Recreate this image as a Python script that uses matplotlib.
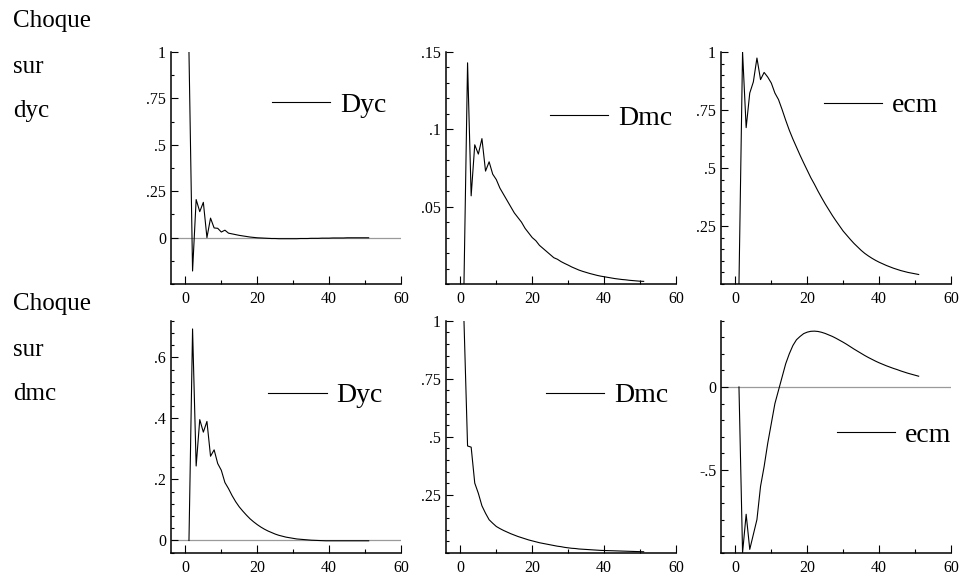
import matplotlib
matplotlib.use("Agg")
import matplotlib.pyplot as plt
from matplotlib.ticker import FixedLocator, FixedFormatter, MultipleLocator
from matplotlib.lines import Line2D

plt.rcParams["font.family"] = ["Liberation Serif", "DejaVu Serif"]

# Horizon of the impulse responses
periods = list(range(1, 52))

# Responses to a shock on dyc
dyc_on_dyc = [1.0, -0.18, 0.205, 0.14, 0.19, 0.0, 0.105, 0.052, 0.05, 0.03,
              0.04, 0.024, 0.02, 0.016, 0.012, 0.009, 0.006, 0.003, 0.001, -0.001,
              -0.002, -0.003, -0.004, -0.005, -0.005, -0.006, -0.006, -0.006, -0.006, -0.006,
              -0.006, -0.005, -0.005, -0.005, -0.004, -0.004, -0.004, -0.003, -0.003, -0.003,
              -0.002, -0.002, -0.002, -0.002, -0.001, -0.001, -0.001, -0.001, -0.001, -0.001,
              -0.001]
dmc_on_dyc = [0.0, 0.143, 0.057, 0.090, 0.084, 0.094, 0.073, 0.079, 0.071, 0.0675,
              0.062, 0.058, 0.054, 0.050, 0.046, 0.043, 0.040, 0.036, 0.033, 0.030,
              0.028, 0.025, 0.023, 0.021, 0.019, 0.017, 0.016, 0.0145, 0.0133, 0.0122,
              0.011, 0.010, 0.009, 0.0082, 0.0075, 0.0068, 0.0062, 0.0056, 0.0051, 0.0047,
              0.0043, 0.0039, 0.0035, 0.0032, 0.0029, 0.0027, 0.0024, 0.0022, 0.002, 0.0018,
              0.0017]
ecm_on_dyc = [0.0, 1.0, 0.674, 0.823, 0.871, 0.974, 0.881, 0.912, 0.892, 0.866,
              0.823, 0.795, 0.752, 0.706, 0.663, 0.625, 0.59, 0.555, 0.522, 0.49,
              0.458, 0.43, 0.40, 0.372, 0.345, 0.32, 0.295, 0.272, 0.25, 0.228,
              0.21, 0.192, 0.175, 0.16, 0.145, 0.132, 0.121, 0.111, 0.102, 0.094,
              0.087, 0.08, 0.074, 0.068, 0.063, 0.058, 0.054, 0.05, 0.047, 0.044,
              0.041]

# Responses to a shock on dmc
dyc_on_dmc = [0.0, 0.693, 0.244, 0.396, 0.355, 0.39, 0.276, 0.297, 0.252, 0.23,
              0.19, 0.17, 0.147, 0.127, 0.11, 0.096, 0.083, 0.071, 0.061, 0.052,
              0.044, 0.037, 0.031, 0.026, 0.021, 0.017, 0.014, 0.011, 0.009, 0.007,
              0.005, 0.004, 0.003, 0.002, 0.001, 0.0005, 0.0, -0.0005, -0.001, -0.001,
              -0.001, -0.001, -0.001, -0.001, -0.001, -0.001, -0.001, -0.001, -0.001, -0.001,
              -0.001]
dmc_on_dmc = [1.0, 0.46, 0.455, 0.30, 0.256, 0.202, 0.17, 0.142, 0.127, 0.113,
              0.104, 0.096, 0.089, 0.082, 0.076, 0.07, 0.065, 0.06, 0.055, 0.051,
              0.047, 0.043, 0.040, 0.037, 0.034, 0.031, 0.028, 0.026, 0.023, 0.021,
              0.019, 0.018, 0.016, 0.015, 0.014, 0.013, 0.012, 0.011, 0.010, 0.0095,
              0.009, 0.0085, 0.008, 0.0075, 0.007, 0.0065, 0.006, 0.0055, 0.005, 0.0045,
              0.004]
ecm_on_dmc = [0.0, -1.0, -0.768, -0.98, -0.89, -0.80, -0.60, -0.48, -0.34, -0.22,
              -0.10, -0.02, 0.06, 0.14, 0.20, 0.25, 0.285, 0.305, 0.322, 0.331,
              0.336, 0.337, 0.335, 0.330, 0.323, 0.314, 0.305, 0.294, 0.282, 0.270,
              0.257, 0.243, 0.229, 0.216, 0.203, 0.190, 0.178, 0.167, 0.156, 0.146,
              0.137, 0.128, 0.120, 0.112, 0.105, 0.097, 0.090, 0.083, 0.077, 0.071,
              0.065]

series_names = ["Dyc", "Dmc", "ecm"]
row_titles = [["Choque", "sur", "dyc"], ["Choque", "sur", "dmc"]]

x_ticks = [0, 20, 40, 60]
x_tick_labels = ["0", "20", "40", "60"]
x_minor_ticks = [10, 30, 50]

y_ticks = [
    [0, 0.25, 0.5, 0.75, 1],
    [0.05, 0.1, 0.15],
    [0.25, 0.5, 0.75, 1],
    [0, 0.2, 0.4, 0.6],
    [0.25, 0.5, 0.75, 1],
    [-0.5, 0],
]
y_tick_labels = [
    ["0", ".25", ".5", ".75", "1"],
    [".05", ".1", ".15"],
    [".25", ".5", ".75", "1"],
    ["0", ".2", ".4", ".6"],
    [".25", ".5", ".75", "1"],
    ["-.5", "0"],
]

responses = [dyc_on_dyc, dmc_on_dyc, ecm_on_dyc,
             dyc_on_dmc, dmc_on_dmc, ecm_on_dmc]

# Layout / style (pixel geometry of a 961x577 canvas)
W, H = 961, 577
fig = plt.figure(figsize=(W / 100, H / 100), dpi=100)

col_left = [171, 446, 721]
col_width = 230
row_top = [52, 320.7]
row_height = 232
y_limits = [(-0.25, 1.0), (0, 0.15), (0, 1.0), (-0.04, 0.72), (0, 1.0), (-1.0, 0.4)]
y_minor_step = [0.125, 0.01, 0.05, 0.04, 0.05, 0.1]
show_zero = [True, False, False, True, False, True]
legend_pos = [(272, 105), (550, 118), (824, 105.7),
              (268.3, 395.7), (546, 395.7), (836.7, 435)]

for i, resp in enumerate(responses):
    r, c = divmod(i, 3)
    left = col_left[c] / W
    bottom = 1 - (row_top[r] + row_height) / H
    ax = fig.add_axes([left, bottom, col_width / W, row_height / H])

    if show_zero[i]:
        ax.axhline(0, color="#9a9a9a", lw=0.9, zorder=1)
    ax.plot(periods, resp, color="black", lw=0.8, zorder=2)

    ax.set_xlim(-4, 60)
    ax.set_ylim(*y_limits[i])

    for s in ["top", "right"]:
        ax.spines[s].set_visible(False)
    for s in ["left", "bottom"]:
        ax.spines[s].set_linewidth(1.1)

    ax.xaxis.set_major_locator(FixedLocator(x_ticks))
    ax.xaxis.set_major_formatter(FixedFormatter(x_tick_labels))
    ax.xaxis.set_minor_locator(FixedLocator(x_minor_ticks))
    ax.yaxis.set_major_locator(FixedLocator(y_ticks[i]))
    ax.yaxis.set_major_formatter(FixedFormatter(y_tick_labels[i]))
    ax.yaxis.set_minor_locator(MultipleLocator(y_minor_step[i]))

    ax.tick_params(axis="both", which="both", direction="in", width=0.8,
                   labelsize=11.5, colors="black")
    ax.tick_params(axis="y", which="major", length=5, pad=3.5)
    ax.tick_params(axis="y", which="minor", length=2.5)
    ax.tick_params(axis="x", which="major", length=5.5, pad=5)
    ax.tick_params(axis="x", which="minor", length=3)

    lx, ly = legend_pos[i]
    ax.legend([Line2D([], [], color="black", lw=0.8)], [series_names[c]],
              loc="center left", bbox_to_anchor=(lx / W, 1 - ly / H),
              bbox_transform=fig.transFigure, frameon=False,
              borderpad=0, borderaxespad=0, handlelength=2.1,
              handletextpad=0.35, prop={"size": 20})

# Row headings
row_baselines = [[27, 73, 117], [310, 356, 400]]
for r in range(2):
    for word, yb in zip(row_titles[r], row_baselines[r]):
        fig.text(13 / W, 1 - yb / H, word, fontsize=18,
                 ha="left", va="baseline")

fig.savefig("out.png", dpi=100)
